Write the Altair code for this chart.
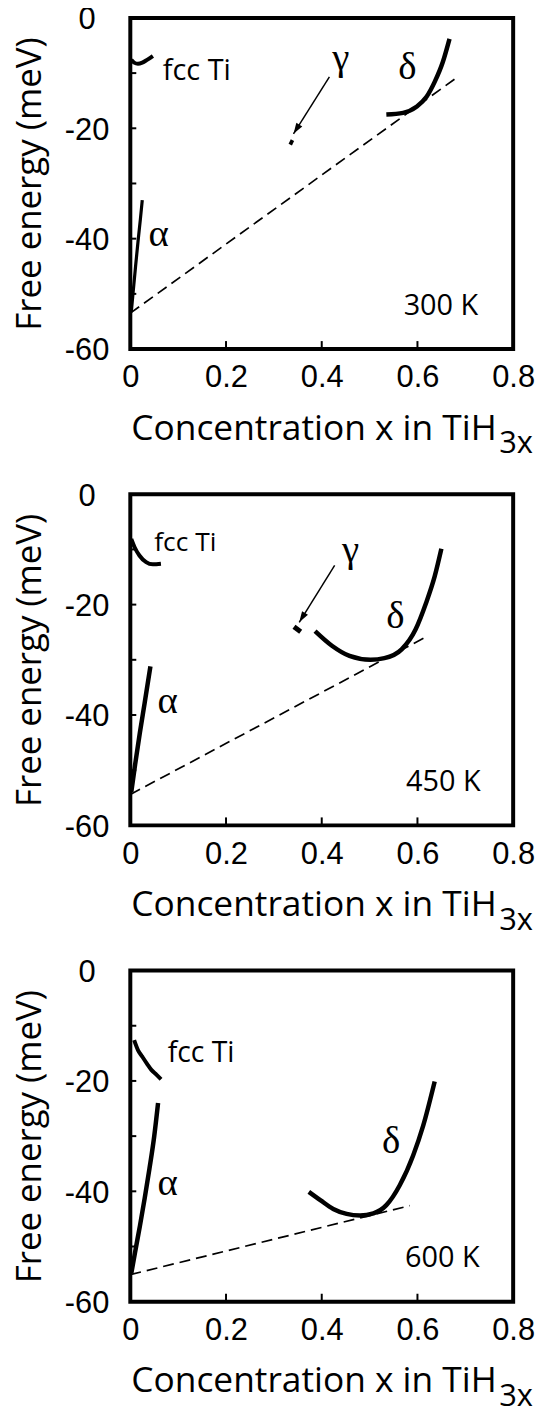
import math
import altair as alt
import pandas as pd

# ---------------- axis values ----------------
X_DOMAIN = [0.0, 0.8]
Y_DOMAIN = [-60, 0]
X_LABEL_VALUES = [0, 0.2, 0.4, 0.6, 0.8]
Y_LABEL_VALUES = [0, -20, -40, -60]
X_TICK_VALUES = [0.2, 0.4, 0.6]
Y_TICK_VALUES = [-10, -20, -30, -40, -50]

X_TITLE = "Concentration x in TiH"
X_TITLE_SUB = "3x"
Y_TITLE = "Free energy (meV)"

TEMPERATURES = ["300 K", "450 K", "600 K"]

# ---------------- fcc Ti branch ----------------
FCC_X_300 = [0.002, 0.008, 0.016, 0.025, 0.035, 0.047]
FCC_Y_300 = [-7.6, -8.1, -8.3, -8.1, -7.6, -6.9]
FCC_X_450 = [0.002, 0.009, 0.019, 0.033, 0.047, 0.064]
FCC_Y_450 = [-8.1, -9.6, -11.1, -12.3, -12.7, -12.6]
FCC_X_600 = [0.008, 0.016, 0.025, 0.035, 0.044, 0.055, 0.064]
FCC_Y_600 = [-12.6, -14.4, -15.6, -16.9, -18.0, -18.9, -19.7]

# ---------------- alpha branch ----------------
ALPHA_X_300 = [0.002, 0.006, 0.011, 0.016, 0.021, 0.025]
ALPHA_Y_300 = [-53.3, -49.6, -45.0, -40.6, -36.5, -33.0]
ALPHA_X_450 = [0.002, 0.01, 0.02, 0.03, 0.042]
ALPHA_Y_450 = [-54.0, -49.0, -43.2, -37.8, -31.2]
ALPHA_X_600 = [0.002, 0.01, 0.02, 0.03, 0.04, 0.05, 0.058]
ALPHA_Y_600 = [-54.9, -51.0, -46.3, -41.3, -35.9, -30.0, -24.0]

# ---------------- gamma branch ----------------
GAMMA_X_300 = [0.333, 0.340]
GAMMA_Y_300 = [-22.4, -22.7]
GAMMA_X_450 = [0.342, 0.356]
GAMMA_Y_450 = [-24.0, -24.9]

# ---------------- delta branch ----------------
DELTA_X_300 = [0.535, 0.570, 0.598, 0.619, 0.636, 0.653, 0.667]
DELTA_Y_300 = [-17.5, -17.2, -16.1, -14.3, -11.6, -8.0, -3.8]
DELTA_X_450 = [0.386, 0.422, 0.458, 0.502, 0.531, 0.567, 0.596, 0.618, 0.636, 0.650]
DELTA_Y_450 = [-24.8, -27.5, -29.3, -30.0, -29.7, -28.1, -24.5, -19.7, -14.9, -9.9]
DELTA_X_600 = [0.373, 0.397, 0.424, 0.452, 0.480, 0.508, 0.535, 0.563, 0.591, 0.612, 0.636]
DELTA_Y_600 = [-40.1, -41.6, -43.2, -44.1, -44.4, -44.0, -42.5, -38.9, -33.5, -28.1, -20.1]

# ---------------- common tangent (dashed) ----------------
TANGENT_X_300 = [0.0, 0.684]
TANGENT_Y_300 = [-53.5, -10.7]
TANGENT_X_450 = [0.0, 0.621]
TANGENT_Y_450 = [-54.4, -25.7]
TANGENT_X_600 = [0.0, 0.584]
TANGENT_Y_600 = [-55.1, -42.6]

# ---------------- gamma arrows (start -> tip) ----------------
ARROW_X_300 = [0.416, 0.341]
ARROW_Y_300 = [-10.7, -21.0]
ARROW_X_450 = [0.427, 0.353]
ARROW_Y_450 = [-12.9, -23.2]

# ---------------- annotation anchors (data coordinates) ----------------
GREEK_TEXT_300 = ["α", "γ", "δ"]
GREEK_X_300 = [0.059, 0.440, 0.579]
GREEK_Y_300 = [-41.3, -9.4, -11.0]
GREEK_TEXT_450 = ["α", "γ", "δ"]
GREEK_X_450 = [0.078, 0.460, 0.554]
GREEK_Y_450 = [-39.6, -12.2, -24.3]
GREEK_TEXT_600 = ["α", "δ"]
GREEK_X_600 = [0.078, 0.545]
GREEK_Y_600 = [-40.7, -33.0]

FCC_LABEL = "fcc Ti"
FCC_LABEL_X = [0.068, 0.050, 0.078]
FCC_LABEL_Y = [-11.3, -10.2, -16.5]
TEMP_LABEL_X = [0.727, 0.732, 0.730]
TEMP_LABEL_Y = [-53.8, -53.7, -53.75]

# ---------------- layout / style ----------------
W, H = 385, 333
PX_X = W / (X_DOMAIN[1] - X_DOMAIN[0])
PX_Y = H / (Y_DOMAIN[1] - Y_DOMAIN[0])
SANS = "Open Sans"
NUM_FONT = "Liberation Sans"
SERIF = "Liberation Serif"
ARROW_HEAD = "M0,0L0.32,1L-0.32,1Z"

X_AXIS = alt.Axis(
    values=X_LABEL_VALUES, labelExpr="'' + datum.value", title=None,
    ticks=False, tickSize=0, domain=False, grid=False,
    labelFont=NUM_FONT, labelFontSize=31, labelColor="black",
    labelPadding=14, labelFlush=False, labelOverlap=False,
)
Y_AXIS = alt.Axis(
    values=Y_LABEL_VALUES, labelExpr="'' + datum.value", title=Y_TITLE,
    ticks=False, tickSize=0, domain=False, grid=False,
    labelFont=NUM_FONT, labelFontSize=31, labelColor="black",
    labelAlign="center", labelBaseline="middle", labelPadding=44, labelOffset=2,
    labelFlush=False, labelOverlap=False,
    titleFont=SANS, titleFontSize=35, titleFontWeight="normal",
    titleColor="black", titlePadding=17,
)
X_SCALE = alt.Scale(domain=X_DOMAIN, nice=False, zero=False)
Y_SCALE = alt.Scale(domain=Y_DOMAIN, nice=False, zero=False)


def df(xs, ys):
    return pd.DataFrame({"x": xs, "y": ys})


def ex():
    return alt.X("x:Q", scale=X_SCALE, axis=X_AXIS)


def ey():
    return alt.Y("y:Q", scale=Y_SCALE, axis=Y_AXIS)


def curve(xs, ys, width):
    return alt.Chart(df(xs, ys)).mark_line(color="black", strokeWidth=width,
                                           interpolate="monotone").encode(x=ex(), y=ey())


def panel(i, fcc, alpha, delta, tangent, gamma=None, arrow=None, greek=None):
    layers = []
    layers.append(
        alt.Chart(df(*tangent)).mark_line(color="black", strokeWidth=1.7,
                                          strokeDash=[11, 6]).encode(x=ex(), y=ey())
    )
    # inward ticks
    layers.append(
        alt.Chart(pd.DataFrame({"x": X_TICK_VALUES})).mark_rule(color="black", strokeWidth=2)
        .encode(x=ex(), y=alt.value(H), y2=alt.value(H - 8))
    )
    layers.append(
        alt.Chart(pd.DataFrame({"y": Y_TICK_VALUES})).mark_rule(color="black", strokeWidth=2)
        .encode(y=ey(), x=alt.value(0), x2=alt.value(6))
    )
    layers.append(curve(*fcc, 4))
    layers.append(curve(*alpha, 3.2 if i == 0 else 4.5))
    layers.append(curve(*delta, 4.5))
    if gamma is not None:
        layers.append(alt.Chart(df(*gamma)).mark_line(color="black", strokeWidth=5,
                                                      strokeCap="butt").encode(x=ex(), y=ey()))
    if arrow is not None:
        ax, ay = arrow
        layers.append(alt.Chart(df(ax, ay)).mark_line(color="black", strokeWidth=1.5)
                      .encode(x=ex(), y=ey()))
        dx = (ax[1] - ax[0]) * PX_X
        dy = -(ay[1] - ay[0]) * PX_Y
        ang = math.degrees(math.atan2(dx, -dy)) % 360
        layers.append(alt.Chart(df([ax[1]], [ay[1]])).mark_point(
            shape=ARROW_HEAD, filled=True, size=480, color="black", opacity=1,
            strokeWidth=0, angle=ang).encode(x=ex(), y=ey()))
    gt, gx, gy = greek
    layers.append(
        alt.Chart(pd.DataFrame({"x": gx, "y": gy, "t": gt})).mark_text(
            font=SERIF, fontSize=39, align="center", baseline="alphabetic", color="black")
        .encode(x=ex(), y=ey(), text="t:N")
    )
    layers.append(
        alt.Chart(pd.DataFrame({"x": [FCC_LABEL_X[i]], "y": [FCC_LABEL_Y[i]], "t": [FCC_LABEL]}))
        .mark_text(font=SANS, fontSize=[29, 26.5, 28.5][i], align="left",
                   baseline="alphabetic", color="black")
        .encode(x=ex(), y=ey(), text="t:N")
    )
    layers.append(
        alt.Chart(pd.DataFrame({"x": [TEMP_LABEL_X[i]], "y": [TEMP_LABEL_Y[i]], "t": [TEMPERATURES[i]]}))
        .mark_text(font=SANS, fontSize=29, align="right", baseline="alphabetic", color="black")
        .encode(x=ex(), y=ey(), text="t:N")
    )
    layers.append(
        alt.Chart(pd.DataFrame({"t": [X_TITLE]})).mark_text(
            font=SANS, fontSize=35.5, align="left", baseline="alphabetic", color="black")
        .encode(text="t:N", x=alt.value(1), y=alt.value(H + 91))
    )
    layers.append(
        alt.Chart(pd.DataFrame({"t": [X_TITLE_SUB]})).mark_text(
            font=SANS, fontSize=31, align="left", baseline="alphabetic", color="black")
        .encode(text="t:N", x=alt.value(371), y=alt.value(H + 105))
    )
    return alt.layer(*layers).properties(width=W, height=H)


p1 = panel(0, (FCC_X_300, FCC_Y_300), (ALPHA_X_300, ALPHA_Y_300), (DELTA_X_300, DELTA_Y_300),
           (TANGENT_X_300, TANGENT_Y_300), (GAMMA_X_300, GAMMA_Y_300), (ARROW_X_300, ARROW_Y_300),
           (GREEK_TEXT_300, GREEK_X_300, GREEK_Y_300))
p2 = panel(1, (FCC_X_450, FCC_Y_450), (ALPHA_X_450, ALPHA_Y_450), (DELTA_X_450, DELTA_Y_450),
           (TANGENT_X_450, TANGENT_Y_450), (GAMMA_X_450, GAMMA_Y_450), (ARROW_X_450, ARROW_Y_450),
           (GREEK_TEXT_450, GREEK_X_450, GREEK_Y_450))
p3 = panel(2, (FCC_X_600, FCC_Y_600), (ALPHA_X_600, ALPHA_Y_600), (DELTA_X_600, DELTA_Y_600),
           (TANGENT_X_600, TANGENT_Y_600), None, None,
           (GREEK_TEXT_600, GREEK_X_600, GREEK_Y_600))

chart = (
    alt.vconcat(p1, p2, p3, spacing=17)
    .properties(padding={"left": 2, "top": -10, "right": 5, "bottom": 0}, background="white")
    .configure_view(stroke="black", strokeWidth=4)
)

chart.save("out.html", embed_options={"renderer": "svg", "actions": False})
